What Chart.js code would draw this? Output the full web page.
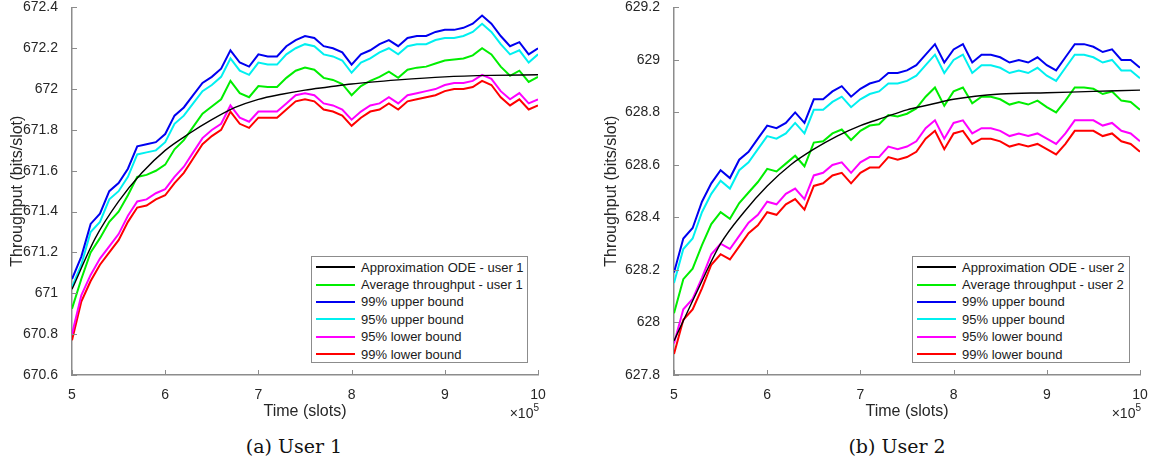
<!DOCTYPE html>
<html>
<head>
<meta charset="utf-8">
<script src="https://cdn.jsdelivr.net/npm/chart.js@4.4.0/dist/chart.umd.min.js"></script>
<style>
  body { margin: 0; width: 1157px; height: 466px; background: #fff; position: relative; overflow: hidden;
         font-family: "Liberation Sans", Arial, sans-serif; }
  canvas { position: absolute; }
  .legend { position: absolute; top: 256px; height: 103.5px; padding-top: 1.5px; border: 1px solid #8c8c8c;
            background: #fff; }
  .legend .row { height: 17.4px; display: flex; align-items: center; font-size: 13px; color: #1a1a1a; white-space: nowrap; }
  .legend .swatch { width: 39px; height: 2px; margin: 0 6px 0 4px; }
  .caption { position: absolute; top: 435px; font-family: "DejaVu Serif", serif; font-size: 19px; color: #111;
             transform: translateX(-50%); white-space: nowrap; }
</style>
</head>
<body>
<canvas id="chartUser1" width="578" height="437" style="left:0;top:-7px"></canvas>
<canvas id="chartUser2" width="578" height="437" style="left:579px;top:-7px"></canvas>
<div class="legend" id="legendUser1" style="left:311px;width:215px"></div>
<div class="legend" id="legendUser2" style="left:912px;width:216px"></div>
<div class="caption" style="left:294px">(a) User 1</div>
<div class="caption" style="left:897px">(b) User 2</div>
<script>
// time axis in units of 1e5 slots
const timeSlots = [5.0, 5.1, 5.2, 5.3, 5.4, 5.5, 5.6, 5.7, 5.8, 5.9,
  6.0, 6.1, 6.2, 6.3, 6.4, 6.5, 6.6, 6.7, 6.8, 6.9,
  7.0, 7.1, 7.2, 7.3, 7.4, 7.5, 7.6, 7.7, 7.8, 7.9,
  8.0, 8.1, 8.2, 8.3, 8.4, 8.5, 8.6, 8.7, 8.8, 8.9,
  9.0, 9.1, 9.2, 9.3, 9.4, 9.5, 9.6, 9.7, 9.8, 9.9, 10.0];
const odeTime = [5, 5.25, 5.5, 5.75, 6, 6.25, 6.5, 6.75, 7, 7.25, 7.5, 7.75, 8, 8.5, 9, 9.5, 10];
const xTicks = [5, 6, 7, 8, 9, 10];

// user 1
const user1Ode = [671.02, 671.27, 671.45, 671.59, 671.70, 671.78, 671.85, 671.91, 671.95, 671.975,
  671.995, 672.01, 672.025, 672.045, 672.06, 672.067, 672.07];
const user1Avg = [670.925, 671.07, 671.20, 671.27, 671.35, 671.40, 671.48, 671.57, 671.58, 671.60,
  671.63, 671.705, 671.75, 671.815, 671.88, 671.915, 671.95, 672.04, 671.98, 671.96,
  672.015, 672.01, 672.01, 672.055, 672.09, 672.105, 672.095, 672.055, 672.045, 672.025,
  671.97, 672.015, 672.04, 672.06, 672.085, 672.055, 672.095, 672.105, 672.11, 672.125,
  672.14, 672.145, 672.15, 672.165, 672.20, 672.17, 672.11, 672.065, 672.09, 672.035, 672.06];
const user1Up99 = [671.07, 671.18, 671.34, 671.39, 671.50, 671.54, 671.61, 671.72, 671.73, 671.74,
  671.78, 671.87, 671.91, 671.97, 672.03, 672.06, 672.10, 672.19, 672.13, 672.11,
  672.17, 672.16, 672.16, 672.21, 672.24, 672.26, 672.25, 672.21, 672.20, 672.18,
  672.12, 672.17, 672.19, 672.22, 672.24, 672.21, 672.25, 672.26, 672.26, 672.28,
  672.29, 672.29, 672.30, 672.32, 672.36, 672.32, 672.26, 672.21, 672.23, 672.17, 672.20];
const user1Up95 = [671.03, 671.14, 671.30, 671.35, 671.46, 671.50, 671.57, 671.68, 671.69, 671.70,
  671.74, 671.83, 671.87, 671.93, 671.99, 672.02, 672.06, 672.15, 672.09, 672.07,
  672.13, 672.12, 672.12, 672.17, 672.20, 672.22, 672.21, 672.17, 672.16, 672.14,
  672.08, 672.13, 672.15, 672.18, 672.20, 672.17, 672.21, 672.22, 672.22, 672.24,
  672.25, 672.25, 672.26, 672.28, 672.32, 672.28, 672.22, 672.17, 672.19, 672.13, 672.17];
const user1Low95 = [670.80, 670.99, 671.09, 671.17, 671.23, 671.29, 671.38, 671.45, 671.46, 671.49,
  671.51, 671.57, 671.62, 671.69, 671.76, 671.80, 671.83, 671.92, 671.86, 671.84,
  671.89, 671.89, 671.89, 671.93, 671.97, 671.98, 671.97, 671.93, 671.92, 671.90,
  671.85, 671.89, 671.92, 671.93, 671.96, 671.93, 671.97, 671.98, 671.99, 672.00,
  672.02, 672.03, 672.03, 672.04, 672.07, 672.05, 671.99, 671.95, 671.98, 671.93, 671.95];
const user1Low99 = [670.77, 670.96, 671.06, 671.14, 671.20, 671.26, 671.35, 671.42, 671.43, 671.46,
  671.48, 671.54, 671.59, 671.66, 671.73, 671.77, 671.80, 671.89, 671.83, 671.81,
  671.86, 671.86, 671.86, 671.90, 671.94, 671.95, 671.94, 671.90, 671.89, 671.87,
  671.82, 671.86, 671.89, 671.90, 671.93, 671.90, 671.94, 671.95, 671.96, 671.97,
  671.99, 672.00, 672.00, 672.01, 672.04, 672.02, 671.96, 671.92, 671.95, 671.90, 671.92];
const user1YTicks = [670.6, 670.8, 671, 671.2, 671.4, 671.6, 671.8, 672, 672.2, 672.4];

// user 2
const user2Ode = [627.93, 628.12, 628.30, 628.42, 628.52, 628.60, 628.66, 628.71, 628.75, 628.78,
  628.81, 628.83, 628.85, 628.87, 628.875, 628.88, 628.885];
const user2Avg = [628.035, 628.165, 628.205, 628.295, 628.375, 628.42, 628.395, 628.455, 628.495, 628.535,
  628.585, 628.575, 628.605, 628.635, 628.595, 628.685, 628.69, 628.72, 628.735, 628.695,
  628.73, 628.75, 628.755, 628.79, 628.785, 628.795, 628.815, 628.86, 628.895, 628.825,
  628.88, 628.895, 628.835, 628.86, 628.86, 628.85, 628.83, 628.84, 628.83, 628.845,
  628.82, 628.80, 628.845, 628.895, 628.895, 628.89, 628.87, 628.88, 628.845, 628.84, 628.81];
const user2Up99 = [628.19, 628.32, 628.36, 628.46, 628.53, 628.58, 628.55, 628.62, 628.65, 628.70,
  628.75, 628.74, 628.76, 628.80, 628.76, 628.85, 628.85, 628.88, 628.90, 628.86,
  628.89, 628.91, 628.92, 628.95, 628.95, 628.96, 628.98, 629.02, 629.06, 628.99,
  629.04, 629.06, 628.99, 629.02, 629.02, 629.01, 628.99, 629.00, 628.99, 629.01,
  628.98, 628.96, 629.01, 629.06, 629.06, 629.05, 629.03, 629.04, 629.00, 629.00, 628.97];
const user2Up95 = [628.15, 628.28, 628.32, 628.42, 628.49, 628.54, 628.51, 628.58, 628.61, 628.66,
  628.71, 628.70, 628.72, 628.76, 628.72, 628.81, 628.81, 628.84, 628.86, 628.82,
  628.85, 628.87, 628.88, 628.91, 628.91, 628.92, 628.94, 628.98, 629.02, 628.95,
  629.00, 629.02, 628.95, 628.98, 628.98, 628.97, 628.95, 628.96, 628.95, 628.97,
  628.94, 628.92, 628.97, 629.02, 629.02, 629.01, 628.99, 629.00, 628.96, 628.96, 628.93];
const user2Low95 = [627.92, 628.05, 628.09, 628.17, 628.26, 628.30, 628.28, 628.33, 628.38, 628.41,
  628.46, 628.45, 628.49, 628.51, 628.47, 628.56, 628.57, 628.60, 628.61, 628.57,
  628.61, 628.63, 628.63, 628.67, 628.66, 628.67, 628.69, 628.74, 628.77, 628.70,
  628.76, 628.77, 628.72, 628.74, 628.74, 628.73, 628.71, 628.72, 628.71, 628.72,
  628.70, 628.68, 628.72, 628.77, 628.77, 628.77, 628.75, 628.76, 628.73, 628.72, 628.69];
const user2Low99 = [627.88, 628.01, 628.05, 628.13, 628.22, 628.26, 628.24, 628.29, 628.34, 628.37,
  628.42, 628.41, 628.45, 628.47, 628.43, 628.52, 628.53, 628.56, 628.57, 628.53,
  628.57, 628.59, 628.59, 628.63, 628.62, 628.63, 628.65, 628.70, 628.73, 628.66,
  628.72, 628.73, 628.68, 628.70, 628.70, 628.69, 628.67, 628.68, 628.67, 628.68,
  628.66, 628.64, 628.68, 628.73, 628.73, 628.73, 628.71, 628.72, 628.69, 628.68, 628.65];
const user2YTicks = [627.8, 628, 628.2, 628.4, 628.6, 628.8, 629, 629.2];

const AXIS_COLOR = "#8c8c8c";
const TEXT_COLOR = "#262626";
const FONT = "'Liberation Sans', Arial, sans-serif";

const toPoints = (xs, ys) => ys.map((v, i) => ({ x: xs[i], y: v }));

// MATLAB style ticks pointing into the plot area
const inwardTicks = {
  id: "inwardTicks",
  afterDraw(chart) {
    const { ctx, chartArea, scales: { x, y } } = chart;
    ctx.save();
    ctx.strokeStyle = AXIS_COLOR;
    ctx.lineWidth = 1;
    x.ticks.forEach(t => {
      const px = Math.round(x.getPixelForValue(t.value)) + 0.5;
      ctx.beginPath();
      ctx.moveTo(px, chartArea.bottom);
      ctx.lineTo(px, chartArea.bottom - 5);
      ctx.stroke();
    });
    y.ticks.forEach(t => {
      const py = Math.round(y.getPixelForValue(t.value)) + 0.5;
      ctx.beginPath();
      ctx.moveTo(chartArea.left, py);
      ctx.lineTo(chartArea.left + 5, py);
      ctx.stroke();
    });
    ctx.restore();
  }
};

// the "x10^5" exponent under the x axis
const exponentLabel = {
  id: "exponentLabel",
  afterDraw(chart) {
    const { ctx, chartArea } = chart;
    const x = chartArea.right + 1, y = chartArea.bottom + 43;
    ctx.save();
    ctx.fillStyle = TEXT_COLOR;
    ctx.textAlign = "right";
    ctx.textBaseline = "alphabetic";
    ctx.font = "10px " + FONT;
    ctx.fillText("5", x, y - 7);
    const w = ctx.measureText("5").width;
    ctx.font = "14px " + FONT;
    ctx.fillText("\u00d710", x - w, y);
    ctx.restore();
  }
};

function makeChart(canvasId, legendId, user, ode, avg, up99, up95, low95, low99, yTicks, yAxisWidth, titlePad, rightPad) {
  const series = [
    { label: "Approximation ODE - user " + user, data: toPoints(odeTime, ode), borderColor: "#000000", borderWidth: 1.4, tension: 0.4, cubicInterpolationMode: "monotone" },
    { label: "Average throughput - user " + user, data: toPoints(timeSlots, avg), borderColor: "#00ee00" },
    { label: "99% upper bound", data: toPoints(timeSlots, up99), borderColor: "#0000f0" },
    { label: "95% upper bound", data: toPoints(timeSlots, up95), borderColor: "#00f0f0" },
    { label: "95% lower bound", data: toPoints(timeSlots, low95), borderColor: "#ff00ff" },
    { label: "99% lower bound", data: toPoints(timeSlots, low99), borderColor: "#ff0000" }
  ];
  const datasets = series.map(s => Object.assign({ borderWidth: 2, pointRadius: 0, fill: false, tension: 0 }, s));

  const chart = new Chart(document.getElementById(canvasId), {
    type: "line",
    data: { datasets },
    options: {
      responsive: false,
      animation: false,
      layout: { padding: { top: 0, bottom: 0, left: 0, right: rightPad } },
      plugins: { legend: { display: false }, tooltip: { enabled: false } },
      scales: {
        x: {
          type: "linear", min: 5, max: 10,
          afterBuildTicks: s => { s.ticks = xTicks.map(v => ({ value: v })); },
          afterFit: s => { s.height = 55; },
          grid: { display: false },
          border: { display: true, color: AXIS_COLOR, width: 1.5 },
          ticks: { color: TEXT_COLOR, font: { family: FONT, size: 14 }, padding: 4, maxRotation: 0 },
          title: { display: true, text: "Time (slots)", color: TEXT_COLOR, font: { family: FONT, size: 16 }, padding: { top: 0, bottom: 9 } }
        },
        y: {
          type: "linear", min: yTicks[0], max: yTicks[yTicks.length - 1],
          afterBuildTicks: s => { s.ticks = yTicks.map(v => ({ value: v })); },
          afterFit: s => { s.width = yAxisWidth; },
          grid: { display: false },
          border: { display: true, color: AXIS_COLOR, width: 1.5 },
          ticks: { color: TEXT_COLOR, font: { family: FONT, size: 14 }, padding: 6, callback: v => String(+v.toFixed(1)) },
          title: { display: true, text: "Throughput (bits/slot)", color: TEXT_COLOR, font: { family: FONT, size: 16 }, padding: { top: titlePad, bottom: 0 } }
        }
      }
    },
    plugins: [inwardTicks, exponentLabel]
  });

  const legend = document.getElementById(legendId);
  chart.data.datasets.forEach(ds => {
    const row = document.createElement("div");
    row.className = "row";
    row.innerHTML = `<span class="swatch" style="background:${ds.borderColor}"></span><span>${ds.label}</span>`;
    legend.appendChild(row);
  });
  return chart;
}

makeChart("chartUser1", "legendUser1", 1, user1Ode, user1Avg, user1Up99, user1Up95, user1Low95, user1Low99, user1YTicks, 72, 8, 40);
makeChart("chartUser2", "legendUser2", 2, user2Ode, user2Avg, user2Up99, user2Up95, user2Low95, user2Low99, user2YTicks, 95, 23, 17);
</script>
</body>
</html>
